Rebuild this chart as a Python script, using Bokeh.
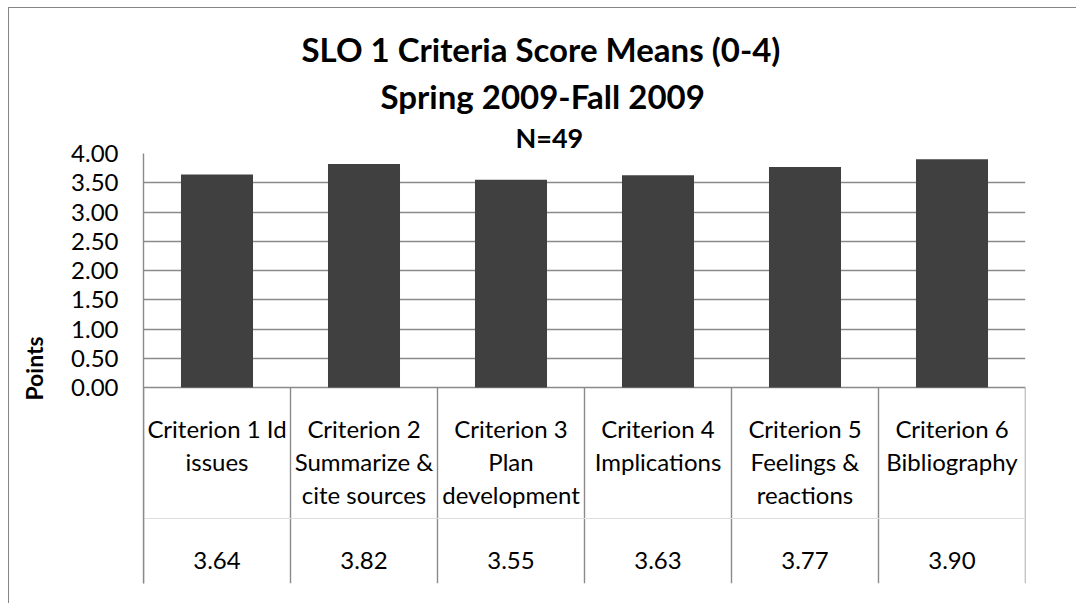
from bokeh.plotting import figure
from bokeh.layouts import column
from bokeh.models import Range1d, FixedTicker, NumeralTickFormatter, Title
from bokeh.core.properties import value
from bokeh.embed import file_html
from bokeh.resources import INLINE

# ---------------- data ----------------
title_lines = ["SLO 1 Criteria Score Means (0-4)", "Spring 2009-Fall 2009"]
subtitle = "N=49"
y_label = "Points"
categories = [
    "Criterion 1 Id\nissues",
    "Criterion 2\nSummarize &\ncite sources",
    "Criterion 3\nPlan\ndevelopment",
    "Criterion 4\nImplications",
    "Criterion 5\nFeelings &\nreactions",
    "Criterion 6\nBibliography",
]
means = [3.64, 3.82, 3.55, 3.63, 3.77, 3.90]
y_ticks = [0.0, 0.5, 1.0, 1.5, 2.0, 2.5, 3.0, 3.5, 4.0]

# ---------------- layout ----------------
# chart-area edge (left/top) is a 1px shadow just outside the canvas, at page (8, 7)
OX, OY = 9, 8                      # page position of the canvas origin
W, H = 1077 - OX, 604 - OY
FRAME_L, FRAME_T = 143 - OX, 153 - OY
ZERO_Y, FRAME_B, FRAME_R = 387 - OY, 583 - OY, 1025 - OX
Y_MAX = y_ticks[-1]
PX = (ZERO_Y - FRAME_T) / Y_MAX          # pixels per data unit
Y_START = -(FRAME_B - ZERO_Y) / PX
n = len(categories)

FONT = "Lato"
GRID = "#8a8a8a"
LW = 1.4

p = figure(width=W, height=H, title=None,
           x_range=Range1d(0, n), y_range=Range1d(Y_START, Y_MAX),
           output_backend="svg", toolbar_location=None,
           x_axis_location=None,
           min_border_left=FRAME_L, min_border_top=FRAME_T,
           min_border_right=W - FRAME_R, min_border_bottom=H - FRAME_B)
p.outline_line_color = None
p.background_fill_color = "white"
p.border_fill_color = "white"

# grid
p.xgrid.visible = False
p.ygrid.ticker = FixedTicker(ticks=y_ticks)
p.ygrid.grid_line_color = GRID
p.ygrid.grid_line_width = LW

# y axis
ax = p.yaxis[0]
ax.ticker = FixedTicker(ticks=y_ticks)
ax.formatter = NumeralTickFormatter(format="0.00")
ax.major_tick_out = 0
ax.major_tick_in = 0
ax.minor_tick_out = 0
ax.minor_tick_in = 0
ax.axis_line_color = GRID
ax.axis_line_width = LW
ax.major_label_text_font = FONT
ax.major_label_text_font_size = "24px"
ax.major_label_text_color = "black"
ax.major_label_standoff = 25
ax.axis_label = y_label
ax.axis_label_text_font = FONT
ax.axis_label_text_font_size = "23px"
ax.axis_label_text_font_style = "bold"
ax.axis_label_text_color = "black"
ax.axis_label_standoff = 20

# bars
centers = [i + 0.5 for i in range(n)]
p.vbar(x=centers, top=means, bottom=0, width=0.49,
       fill_color="#404040", line_color=None)

# data table below the axis
bounds = list(range(n + 1))
p.segment(x0=bounds, y0=[Y_START] * (n + 1), x1=bounds, y1=[0] * (n + 1),
          line_color=GRID, line_width=LW)
y_div = -131 / PX
p.segment(x0=[0], y0=[y_div], x1=[n], y1=[y_div], line_color="#dedede", line_width=1)

y_lab = -26 / PX
p.text(x=centers, y=[y_lab] * n, text=categories,
       text_align="center", text_baseline="top",
       text_font=value(FONT), text_font_size="24px", text_line_height=1.14,
       text_color="black")
y_val = -173 / PX
p.text(x=centers, y=[y_val] * n, text=[f"{m:.2f}" for m in means],
       text_align="center", text_baseline="middle",
       text_font=value(FONT), text_font_size="24px", text_color="black")

# titles: first added sits nearest the plot frame; offsets from the frame's left edge
p.add_layout(Title(text=subtitle, align="left", offset=515 - 143,
                   text_font=FONT, text_font_size="27px", text_font_style="bold",
                   text_color="black", standoff=0), "above")
p.add_layout(Title(text=title_lines[1], align="left", offset=380 - 143,
                   text_font=FONT, text_font_size="33px", text_font_style="bold",
                   text_color="black", standoff=5), "above")
p.add_layout(Title(text=title_lines[0], align="left", offset=301 - 143,
                   text_font=FONT, text_font_size="33px", text_font_style="bold",
                   text_color="black", standoff=6), "above")

page = column(p, styles={"margin-left": f"{OX}px", "margin-top": f"{OY}px",
                         "box-shadow": "-1px -1px 0px 0px #868686"})

open("out.html", "w").write(file_html(page, INLINE))
